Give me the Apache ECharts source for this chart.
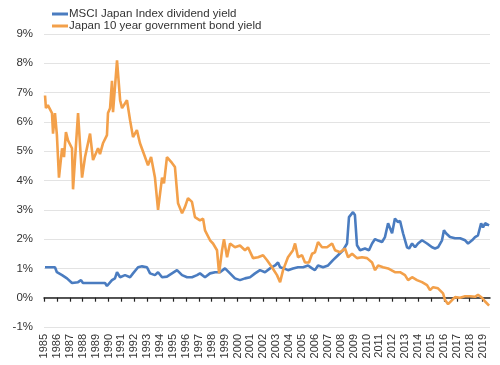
<!DOCTYPE html>
<html>
<head>
<meta charset="utf-8">
<script src="https://cdn.jsdelivr.net/npm/echarts@6/dist/echarts.min.js"></script>
<style>html,body{margin:0;padding:0;background:#fff;}#c{width:500px;height:365px;}</style>
</head>
<body>
<div id="c"></div>
<script>
var yearTicks = [];
for (var y = 1985; y <= 2019; y++) yearTicks.push(y);

var msciYears = [1985.08,1985.85,1986.0,1986.4,1986.78,1987.17,1987.64,1987.87,1988.02,1988.57,1989.19,1989.73,1989.88,1990.27,1990.5,1990.66,1990.9,1991.28,1991.67,1991.9,1992.29,1992.6,1992.98,1993.22,1993.6,1993.84,1994.15,1994.53,1994.92,1995.31,1995.7,1996.09,1996.47,1996.86,1997.09,1997.48,1997.87,1998.26,1998.64,1999.03,1999.42,1999.8,2000.19,2000.58,2000.97,2001.36,2001.74,2002.13,2002.52,2002.91,2003.14,2003.3,2003.6,2003.91,2004.3,2004.69,2005.08,2005.47,2005.78,2006.0,2006.24,2006.63,2007.02,2007.4,2007.79,2008.18,2008.49,2008.64,2008.95,2009.1,2009.26,2009.5,2009.88,2010.19,2010.43,2010.66,2010.9,2011.2,2011.43,2011.67,2011.98,2012.2,2012.44,2012.6,2012.83,2013.14,2013.3,2013.53,2013.76,2013.99,2014.3,2014.69,2015.08,2015.31,2015.54,2015.85,2016.0,2016.16,2016.47,2016.86,2017.25,2017.64,2017.87,2018.18,2018.41,2018.64,2018.88,2019.03,2019.19,2019.5];
var msciYield = [1.04,1.04,0.87,0.77,0.66,0.5,0.53,0.6,0.5,0.5,0.5,0.5,0.4,0.6,0.66,0.87,0.7,0.77,0.7,0.83,1.04,1.07,1.04,0.83,0.77,0.87,0.7,0.72,0.83,0.94,0.77,0.7,0.7,0.77,0.83,0.7,0.83,0.87,0.87,1.0,0.83,0.66,0.6,0.66,0.7,0.83,0.94,0.87,1.0,1.1,1.2,1.04,1.0,0.94,1.0,1.04,1.04,1.1,1.0,0.94,1.1,1.04,1.1,1.28,1.45,1.62,1.85,2.75,2.92,2.82,1.79,1.62,1.68,1.62,1.85,2.0,1.95,1.9,2.07,2.54,2.2,2.7,2.58,2.62,2.2,1.72,1.68,1.85,1.72,1.85,1.96,1.85,1.72,1.68,1.72,1.96,2.3,2.2,2.07,2.03,2.03,1.96,1.85,1.96,2.07,2.13,2.54,2.4,2.54,2.47];

var jgbYears = [1985.08,1985.15,1985.3,1985.62,1985.7,1985.85,1986.0,1986.16,1986.4,1986.55,1986.7,1986.86,1987.17,1987.25,1987.64,1987.95,1988.18,1988.57,1988.8,1989.19,1989.34,1989.57,1989.88,1989.96,1990.12,1990.27,1990.35,1990.66,1990.9,1991.05,1991.43,1991.67,1991.9,1992.2,1992.44,1992.83,1993.06,1993.3,1993.6,1993.84,1994.15,1994.3,1994.53,1994.92,1995.15,1995.39,1995.7,1995.93,1996.16,1996.47,1996.7,1997.09,1997.33,1997.48,1997.87,1998.1,1998.41,1998.57,1998.8,1998.95,1999.19,1999.42,1999.8,2000.19,2000.58,2000.81,2001.2,2001.59,2001.98,2002.29,2002.67,2003.06,2003.3,2003.53,2003.91,2004.3,2004.46,2004.69,2005.0,2005.23,2005.54,2005.78,2006.0,2006.24,2006.55,2006.94,2007.33,2007.56,2007.95,2008.33,2008.57,2008.88,2009.26,2009.65,2010.04,2010.43,2010.66,2010.9,2011.28,2011.67,2011.82,2012.2,2012.6,2012.98,2013.22,2013.53,2013.91,2014.3,2014.69,2014.92,2015.16,2015.54,2015.93,2016.09,2016.32,2016.63,2016.86,2017.25,2017.64,2018.02,2018.41,2018.64,2018.95,2019.19,2019.5];
var jgbYield = [6.9,6.47,6.57,6.3,5.6,6.3,5.55,4.1,5.1,4.8,5.65,5.37,5.1,3.7,6.3,4.1,4.8,5.6,4.7,5.1,4.9,5.27,5.55,6.3,6.47,7.4,6.33,8.1,6.74,6.47,6.74,6.06,5.48,5.72,5.27,4.8,4.52,4.8,4.1,3.0,4.1,3.9,4.8,4.6,4.46,3.22,2.88,3.1,3.4,3.27,2.75,2.64,2.7,2.3,1.96,1.85,1.62,0.83,1.62,2.0,1.38,1.85,1.72,1.78,1.62,1.72,1.35,1.38,1.45,1.28,1.04,0.77,0.53,0.94,1.38,1.62,1.85,1.38,1.45,1.2,1.2,1.5,1.55,1.9,1.72,1.72,1.85,1.62,1.55,1.68,1.38,1.5,1.35,1.38,1.35,1.2,0.94,1.1,1.04,1.0,1.0,0.87,0.87,0.77,0.6,0.7,0.6,0.53,0.43,0.26,0.36,0.32,0.15,-0.08,-0.22,-0.08,0.02,0.0,0.05,0.05,0.03,0.1,0.0,-0.13,-0.27];

function pairs(xs, ys) { return xs.map(function (x, i) { return [x, ys[i]]; }); }

var chart = echarts.init(document.getElementById('c'), null, {renderer: 'canvas'});
chart.setOption({
  animation: false,
  textStyle: {fontFamily: 'Liberation Sans, Arial, sans-serif'},
  legend: {
    orient: 'vertical', left: 47, top: 3, itemGap: 0,
    icon: 'rect', itemWidth: 16, itemHeight: 3,
    textStyle: {fontSize: 11.5, color: '#333', padding: [0, 0, 0, -4]},
    data: ['MSCI Japan Index dividend yield', 'Japan 10 year government bond yield']
  },
  grid: {left: 44, right: 10, top: 34, bottom: 38, containLabel: false, outerBoundsMode: 'none'},
  xAxis: {
    type: 'value', min: 1985, max: 2019.57, interval: 1,
    axisLine: {show: true, onZero: true, lineStyle: {color: '#222', width: 1.5}},
    axisTick: {show: true, length: 4, lineStyle: {color: '#222', width: 1.2}, customValues: yearTicks},
    axisLabel: {rotate: 90, margin: 7, fontSize: 11, color: '#333', customValues: yearTicks,
      formatter: function (v) { return String(v); }},
    splitLine: {show: false}
  },
  yAxis: {
    type: 'value', min: -1, max: 9, interval: 1,
    axisLine: {show: false}, axisTick: {show: false},
    axisLabel: {formatter: '{value}%', fontSize: 11.5, color: '#333', margin: 11},
    splitLine: {lineStyle: {color: '#e3e3e3', width: 1}}
  },
  series: [
    {name: 'MSCI Japan Index dividend yield', type: 'line', data: pairs(msciYears, msciYield),
      showSymbol: false, symbol: 'none', lineStyle: {color: '#4a7cc0', width: 2.6}, itemStyle: {color: '#4a7cc0'}},
    {name: 'Japan 10 year government bond yield', type: 'line', data: pairs(jgbYears, jgbYield),
      showSymbol: false, symbol: 'none', lineStyle: {color: '#f3a04a', width: 2.6}, itemStyle: {color: '#f3a04a'}}
  ]
});
</script>
</body>
</html>
